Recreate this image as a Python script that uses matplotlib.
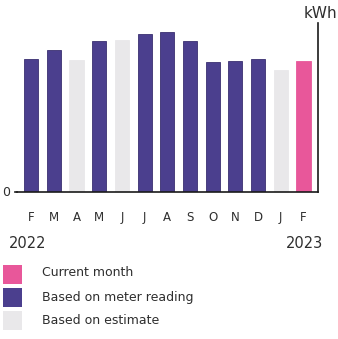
import matplotlib
matplotlib.use("Agg")
import matplotlib.pyplot as plt
from matplotlib.patches import Rectangle

months = ["F", "M", "A", "M", "J", "J", "A", "S", "O", "N", "D", "J", "F"]
values = [399, 425, 397, 452, 457, 473, 480, 454, 389, 394, 400, 365, 394]
kinds = ["meter", "meter", "estimate", "meter", "estimate", "meter", "meter",
         "meter", "meter", "meter", "meter", "estimate", "current"]
legend_labels = ["Current month", "Based on meter reading", "Based on estimate"]
legend_kinds = ["current", "meter", "estimate"]
year_labels = ["2022", "2023"]
unit_label = "kWh"

colors = {"current": "#e8579a", "meter": "#4b3f8e", "estimate": "#e9e8ea"}
edges = {"current": "#e8579a", "meter": "#3a3070", "estimate": "#e9e8ea"}
text_color = "#2e2e2e"

plt.rcParams['font.family'] = ['DejaVu Sans']

W, H = 338, 339
fig = plt.figure(figsize=(W / 100, H / 100), dpi=100)
fig.patch.set_facecolor("white")

x0, x1, yb, yt = 17, 318, 192, 23
ax = fig.add_axes([x0 / W, 1 - yb / H, (x1 - x0) / W, (yb - yt) / H])
x = list(range(len(months)))
ax.bar(x, values, width=0.62,
       color=[colors[k] for k in kinds],
       edgecolor=[edges[k] for k in kinds], linewidth=0.6)
ax.set_xlim(-0.62, len(months) - 1 + 0.64)
ax.set_ylim(0, 507)
for s in ["left", "top"]:
    ax.spines[s].set_visible(False)
ax.spines["bottom"].set_linewidth(1.2)
ax.spines["right"].set_linewidth(1.2)
ax.spines["bottom"].set_color("#1a1a1a")
ax.spines["right"].set_color("#1a1a1a")
ax.set_yticks([])
ax.set_xticks(x)
ax.set_xticklabels(months, fontsize=8.5, color=text_color)
ax.tick_params(axis="x", length=0, pad=14)

# zero label and small tick
fig.text(2 / W, 1 - 192 / H, "0", fontsize=9, color=text_color,
         ha="left", va="center")
ax.plot([-0.62 - 0.08, -0.62], [0, 0], color="#1a1a1a", lw=1.2,
        clip_on=False)

fig.text(337 / W, 1 - 13 / H, unit_label, fontsize=11, color=text_color,
         ha="right", va="center")

fig.text(9 / W, 1 - 243 / H, year_labels[0], fontsize=10.5, color=text_color,
         ha="left", va="center")
fig.text(323 / W, 1 - 243 / H, year_labels[1], fontsize=10.5, color=text_color,
         ha="right", va="center")

box_tops = [265, 288, 311]
text_y = [273, 297, 320]
for top, ty, lab, k in zip(box_tops, text_y, legend_labels, legend_kinds):
    fig.patches.append(Rectangle((3 / W, 1 - (top + 19) / H), 19 / W, 19 / H,
                                 transform=fig.transFigure,
                                 facecolor=colors[k], edgecolor="none"))
    fig.text(42 / W, 1 - ty / H, lab, fontsize=9, color=text_color,
             ha="left", va="center")

fig.savefig("out.png", dpi=100)
